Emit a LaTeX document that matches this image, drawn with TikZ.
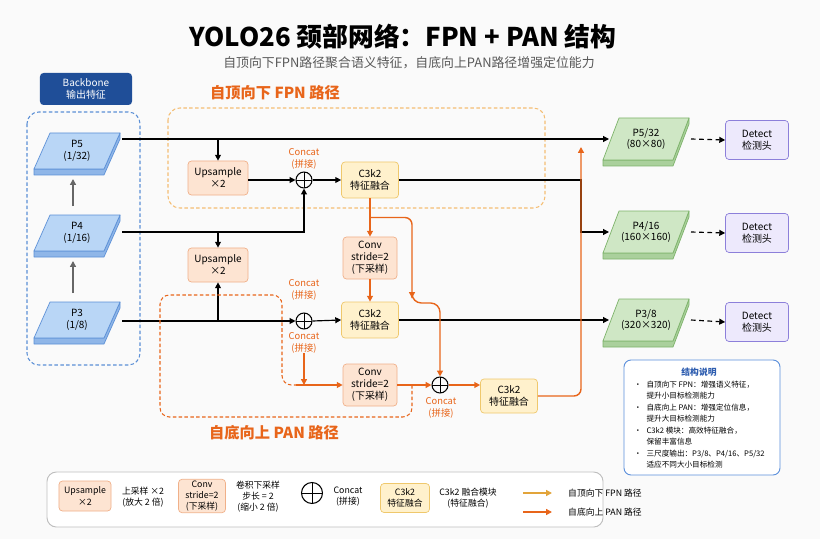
\documentclass[tikz,border=0pt]{standalone}
\usepackage{fontspec}
\setmainfont{Noto Sans CJK SC}
\usetikzlibrary{calc, positioning}
\usetikzlibrary{arrows.meta}

\definecolor{panorange}{HTML}{E8651A}
\definecolor{fpngold}{HTML}{E2A43A}
\definecolor{fpndash}{HTML}{F5BE74}
\definecolor{upfill}{HTML}{FDE4D2}
\definecolor{upline}{HTML}{F0B089}
\definecolor{fusefill}{HTML}{FFF1CC}
\definecolor{fuseline}{HTML}{EFC86C}
\definecolor{bbface}{HTML}{B9D6F6}
\definecolor{bbline}{HTML}{5B8FD6}
\definecolor{outface}{HTML}{CFE7C5}
\definecolor{outedge}{HTML}{7DB36A}
\definecolor{detfill}{HTML}{EDE9FC}
\definecolor{detline}{HTML}{8C7FDA}
\definecolor{bbhead}{HTML}{1F4E98}
\definecolor{notesline}{HTML}{5B8FDB}
\definecolor{notestitle}{HTML}{2F5EB0}

% feature map drawn as a slab: name, x, y, face, edge, half height, text
\newcommand{\featmap}[7]{%
  \begin{scope}[shift={(#2,#3)}]
    \filldraw[fill=#5!45!#4, draw=#5, line join=round, line width=0.6pt]
      (-43,#6) -- (27,#6) -- (43,-#6) -- (43,{-#6+6}) -- (27,{#6+6}) -- (-43,{#6+6}) -- cycle;
    \filldraw[fill=#4, draw=#5, line join=round, line width=0.6pt]
      (-27,-#6) -- (43,-#6) -- (27,#6) -- (-43,#6) -- cycle;
    \node[boxtext] (#1) at (0,0) {#7};
    \coordinate (#1-e) at (45,0);
    \coordinate (#1-w) at (-37,0);
    \coordinate (#1-n) at (-4,-27);
    \coordinate (#1-s) at (-4,28);
  \end{scope}}

\begin{document}
\begin{tikzpicture}[x=0.03cm, y=-0.03cm,
  boxtext/.style={align=center, font=\fontsize{8.5}{10.2}\selectfont, inner sep=0pt},
  upbox/.style={draw=upline, fill=upfill, rounded corners=3pt, line width=0.6pt, align=center,
    font=\fontsize{8.5}{10.2}\selectfont, minimum width=1.8cm, minimum height=1.02cm, inner sep=1pt},
  convbox/.style={upbox, minimum width=1.62cm, minimum height=1.26cm},
  fusebox/.style={upbox, draw=fuseline, fill=fusefill, minimum width=1.71cm, minimum height=1.08cm},
  detbox/.style={upbox, draw=detline, fill=detfill, minimum width=1.89cm, minimum height=1.17cm},
  catnode/.style={circle, draw, line width=0.9pt, minimum size=0.48cm, inner sep=0pt,
    path picture={\draw[line width=0.8pt] (path picture bounding box.north) -- (path picture bounding box.south)
      (path picture bounding box.west) -- (path picture bounding box.east);}},
  cattext/.style={text=panorange, align=center, font=\fontsize{8}{9.6}\selectfont, inner sep=0pt},
  lgtext/.style={align=center, font=\fontsize{7.5}{9.4}\selectfont, inner sep=0pt},
  feed/.style={line width=1pt, -{Triangle[length=5pt,width=5pt]}},
  up arrow/.style={black!60, line width=1.1pt, -{Triangle[length=5pt,width=5pt]}},
  pan/.style={panorange, line width=1.2pt, -{Triangle[length=5pt,width=5pt]}},
]
\fill[black!2] (0,0) rectangle (820,539);
\useasboundingbox (0,0) rectangle (820,539);

% heading
\node[font=\fontsize{22}{25}\selectfont\bfseries] (title) at (403,37) {YOLO26 颈部网络：FPN + PAN 结构};
\node[text=black!65, font=\fontsize{11}{13}\selectfont] (subtitle) at (409,63)
  {自顶向下FPN路径聚合语义特征，自底向上PAN路径增强定位能力};

% groups
\draw[fpndash, dash pattern=on 3pt off 2pt, line width=0.9pt, rounded corners=10pt] (168,108) rectangle (545,208);
\draw[bbline, dash pattern=on 3pt off 2pt, line width=0.9pt, rounded corners=10pt] (27,112) rectangle (140,365);
\node[text=panorange, font=\fontsize{13}{15}\selectfont\bfseries] (fpnlbl) at (275,93) {自顶向下 FPN 路径};
\node[text=panorange, font=\fontsize{13}{15}\selectfont\bfseries] (panlbl) at (274,433) {自底向上 PAN 路径};
\node[fill=bbhead, text=white, rounded corners=3pt, minimum width=2.76cm, minimum height=0.96cm,
  align=center, font=\fontsize{8.5}{10.2}\selectfont, inner sep=0pt] (backbone) at (86,89) {Backbone\\输出特征};

% backbone maps
\featmap{P5}{77}{151}{bbface}{bbline}{18}{P5\\(1/32)}
\featmap{P4}{77}{233}{bbface}{bbline}{18}{P4\\(1/16)}
\featmap{P3}{77}{320}{bbface}{bbline}{18}{P3\\(1/8)}
\draw[up arrow] (P3-n) -- (P4-s);
\draw[up arrow] (P4-n) -- (P5-s);

% output maps
\featmap{O5}{646}{139}{outface}{outedge}{21}{P5/32\\(80×80)}
\featmap{O4}{646}{232}{outface}{outedge}{21}{P4/16\\(160×160)}
\featmap{O3}{646}{320}{outface}{outedge}{21}{P3/8\\(320×320)}

% neck blocks
\node[upbox] (up1) at (218,178) {Upsample\\×2};
\node[catnode] (cat1) at (304,180) {};
\node[fusebox] (fuse1) at (370,180) {C3k2\\特征融合};
\node[upbox] (up2) at (218,265) {Upsample\\×2};
\node[convbox] (conv1) at (370,258) {Conv\\stride=2\\(下采样)};
\node[catnode] (cat2) at (304,321) {};
\node[fusebox] (fuse2) at (370,320) {C3k2\\特征融合};
\node[convbox] (conv2) at (370,385) {Conv\\stride=2\\(下采样)};
\node[catnode] (cat3) at (440,385) {};
\node[fusebox, minimum height=1.02cm] (fuse3) at (509,396) {C3k2\\特征融合};

\node[cattext] (cat1lbl) at (304,159) {Concat\\(拼接)};
\node[cattext] (cat2top) at (304,290) {Concat\\(拼接)};
\node[cattext] (cat2bot) at (304,343) {Concat\\(拼接)};
\node[cattext] (cat3lbl) at (441,408) {Concat\\(拼接)};

% heads
\node[detbox] (det5) at (757,140) {Detect\\检测头};
\node[detbox] (det4) at (757,233) {Detect\\检测头};
\node[detbox] (det3) at (757,322) {Detect\\检测头};

\coordinate (bus) at (581,147);
\coordinate (split1) at ($(fuse1.south)!0.5!(conv1.north)$);
\coordinate (bend) at (412,298);
\coordinate (panin) at (296,385);

% top-down connections
\draw[feed] (P5-e |- O5) -- (O5-w);
\draw[feed] (up1 |- O5) -- (up1.north);
\draw[feed] (P4-e |- O4) -| (cat1.south);
\draw[feed] (up2 |- O4) -- (up2.north);
\draw[feed] (P3-e |- cat2) -- (cat2.west);
\draw[feed] (up2 |- cat2) -- (up2.south);
\draw[feed] (up1.east |- cat1) -- (cat1.west);
\draw[feed] (cat1.east) -- (fuse1.west);
\draw[feed] (fuse1.east) -| (bus |- O4) -- (O4-w);
\draw[feed] (cat2.east) -- (fuse2.west);
\draw[feed] (fuse2.east) -- (O3-w);
\foreach \s in {5,4,3}
  \draw[feed, dash pattern=on 4pt off 3pt] (O\s-e) -- (det\s.west);

% bottom-up connections
\draw[panorange, dash pattern=on 3pt off 2pt, line width=0.9pt, rounded corners=8pt]
  (412,385) -- (412,417) -- (160,417) -- (160,295) -- (282,295) -- (282,385) -- (panin);
\draw[pan] (fuse1.south) -- (conv1.north);
\draw[pan, rounded corners=6pt] (split1) -| (bend);
\draw[pan, rounded corners=8pt] (bend) -- ++(0,5) -| (cat3.north);
\draw[pan] (conv1.south) -- (fuse2.north);
\draw[pan] (cat2bot.south) -- (cat2bot.south |- conv2);
\draw[pan] (panin) -- (conv2.west);
\draw[pan] (conv2.east) -- (cat3.west);
\draw[pan] (cat3.east) -- (cat3.east -| fuse3.west);
\draw[pan, rounded corners=6pt] (fuse3.east) -| (bus);

% notes
\draw[notesline, fill=white, rounded corners=6pt, line width=0.8pt] (624,360) rectangle (780,475);
\node[text=notestitle, font=\fontsize{7.5}{9}\selectfont\bfseries] (notestitle) at (699,372) {结构说明};
\node[anchor=north west, font=\fontsize{6.5}{9.8}\selectfont, inner sep=0pt] (notes) at (634,379)
  {\begin{tabular}{@{}l@{\hspace{4pt}}l@{}}
   •&自顶向下 FPN：增强语义特征，\\
    &提升小目标检测能力\\
   •&自底向上 PAN：增强定位信息，\\
    &提升大目标检测能力\\
   •&C3k2 模块：高效特征融合，\\
    &保留丰富信息\\
   •&三尺度输出：P3/8、P4/16、P5/32\\
    &适应不同大小目标检测
  \end{tabular}};

% legend
\draw[black!25, fill=white, rounded corners=8pt, line width=0.8pt] (47,472) rectangle (603,527);
\node[upbox, minimum width=1.56cm, minimum height=0.9cm, font=\fontsize{7.5}{9.4}\selectfont] (lgup) at (85,496) {Upsample\\×2};
\node[lgtext] (lguptxt) at (143,497) {上采样 ×2\\(放大 2 倍)};
\node[convbox, minimum width=1.41cm, minimum height=1.0cm, font=\fontsize{7.5}{9.4}\selectfont] (lgconv) at (202,496) {Conv\\stride=2\\(下采样)};
\node[lgtext] (lgconvtxt) at (258,497) {卷积下采样\\步长 = 2\\(缩小 2 倍)};
\node[catnode, minimum size=0.63cm] (lgcat) at (312,493) {};
\node[lgtext] (lgcattxt) at (348,497) {Concat\\(拼接)};
\node[fusebox, minimum width=1.47cm, minimum height=0.87cm, font=\fontsize{7.5}{9.4}\selectfont] (lgfuse) at (405,498) {C3k2\\特征融合};
\node[lgtext] (lgfusetxt) at (468,498) {C3k2 融合模块\\(特征融合)};
\coordinate (lgfpn) at (523,493);
\coordinate (lgfpnend) at (552,493);
\coordinate (lgpan) at (523,512);
\coordinate (lgpanend) at (552,512);
\draw[fpngold, line width=1.2pt, -{Triangle[length=5pt,width=5pt]}] (lgfpn) -- (lgfpnend);
\draw[pan] (lgpan) -- (lgpanend);
\node[lgtext, anchor=west] (lgfpntxt) at (568,493) {自顶向下 FPN 路径};
\node[lgtext, anchor=west] (lgpantxt) at (568,512) {自底向上 PAN 路径};
\end{tikzpicture}
\end{document}
